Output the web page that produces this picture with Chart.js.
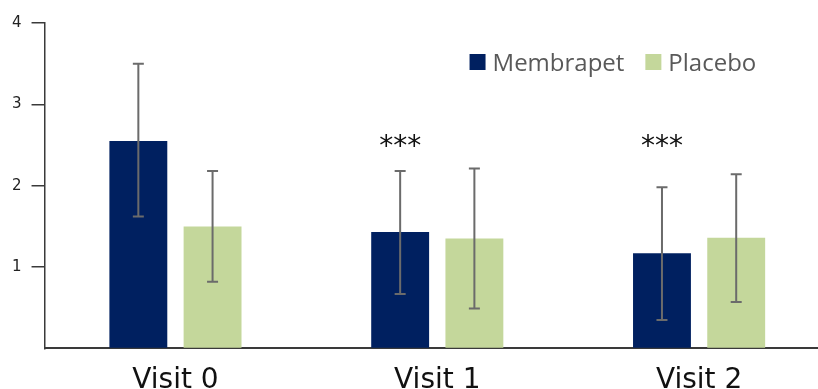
<!DOCTYPE html>
<html>
<head>
<meta charset="utf-8">
<script src="https://cdn.jsdelivr.net/npm/chart.js@4.4.0/dist/chart.umd.min.js"></script>
<style>
  html, body { margin: 0; padding: 0; background: #ffffff; overflow: hidden; }
  #wrap { position: relative; width: 830px; height: 406px; }
</style>
</head>
<body>
<div id="wrap"><canvas id="c"></canvas></div>
<script>
// ---- data ----
const categories = ['Visit 0', 'Visit 1', 'Visit 2'];
const seriesNames = ['Membrapet', 'Placebo'];
const membrapetMean = [2.55, 1.43, 1.17];
const membrapetLow  = [1.62, 0.67, 0.35];
const membrapetHigh = [3.50, 2.18, 1.98];
const placeboMean   = [1.50, 1.35, 1.36];
const placeboLow    = [0.82, 0.49, 0.57];
const placeboHigh   = [2.18, 2.21, 2.14];
const significance  = ['', '***', '***'];
const significanceLevel = 2.55;
const yTickValues = [0, 1, 2, 3, 4];

const errorLow = [membrapetLow, placeboLow];
const errorHigh = [membrapetHigh, placeboHigh];

const errorBarPlugin = {
  id: 'errorBars',
  afterDatasetsDraw(chart) {
    const ctx = chart.ctx;
    const y = chart.scales.y;
    ctx.save();
    ctx.strokeStyle = '#6b6b6b';
    ctx.lineWidth = 2;
    chart.data.datasets.forEach((ds, di) => {
      const meta = chart.getDatasetMeta(di);
      meta.data.forEach((bar, i) => {
        const x = bar.x;
        const yh = y.getPixelForValue(errorHigh[di][i]);
        const yl = y.getPixelForValue(errorLow[di][i]);
        const cap = 5.5;
        ctx.beginPath();
        ctx.moveTo(x, yh); ctx.lineTo(x, yl);
        ctx.moveTo(x - cap, yh); ctx.lineTo(x + cap, yh);
        ctx.moveTo(x - cap, yl); ctx.lineTo(x + cap, yl);
        ctx.stroke();
      });
    });
    // significance markers
    const meta0 = chart.getDatasetMeta(0);
    ctx.fillStyle = '#111111';
    ctx.font = '28px "DejaVu Sans"';
    ctx.textAlign = 'center';
    ctx.textBaseline = 'middle';
    significance.forEach((s, i) => {
      if (!s) return;
      const bar = meta0.data[i];
      ctx.fillText(s, bar.x, y.getPixelForValue(significanceLevel) + 7);
    });
    ctx.restore();
  }
};

const legendPlugin = {
  id: 'customLegend',
  afterDraw(chart) {
    const ctx = chart.ctx;
    const area = chart.chartArea;
    ctx.save();
    ctx.font = '24px "Open Sans"';
    ctx.textBaseline = 'alphabetic';
    ctx.textAlign = 'left';
    let x = area.left + 425;
    const top = area.top + 31;
    chart.data.datasets.forEach((ds) => {
      ctx.fillStyle = ds.backgroundColor;
      ctx.fillRect(x, top, 16, 16);
      ctx.fillStyle = '#595959';
      ctx.fillText(ds.label, x + 23, top + 17);
      x += 23 + ctx.measureText(ds.label).width + 21;
    });
    ctx.restore();
  }
};

new Chart(document.getElementById('c'), {
  type: 'bar',
  data: {
    labels: categories,
    datasets: [
      { label: seriesNames[0], data: membrapetMean, backgroundColor: '#002060',
        barPercentage: 0.78, categoryPercentage: 0.567 },
      { label: seriesNames[1], data: placeboMean, backgroundColor: '#c4d79b',
        barPercentage: 0.78, categoryPercentage: 0.567 }
    ]
  },
  options: {
    responsive: true,
    maintainAspectRatio: false,
    animation: false,
    layout: { padding: { left: 2, right: 0, top: 23, bottom: 0 } },
    plugins: { legend: { display: false }, tooltip: { enabled: false } },
    scales: {
      x: {
        grid: { display: false },
        border: { display: true, color: '#3a3a3a', width: 2 },
        ticks: { color: '#111111', font: { family: 'DejaVu Sans', size: 28 }, padding: 8 }
      },
      y: {
        min: 0, max: 4,
        afterBuildTicks(axis) { axis.ticks = yTickValues.map(v => ({ value: v })); },
        grid: {
          drawOnChartArea: false, drawTicks: true, tickLength: 13, lineWidth: 1.5,
          tickColor: (c) => (c.tick && c.tick.value === 0) ? 'rgba(0,0,0,0)' : '#3a3a3a'
        },
        border: { display: true, color: '#3a3a3a', width: 1.5 },
        ticks: {
          color: '#222222', font: { family: 'DejaVu Sans', size: 15 }, padding: 10,
          callback: (v) => v === 0 ? '' : String(v)
        }
      }
    }
  },
  plugins: [errorBarPlugin, legendPlugin]
});
</script>
</body>
</html>
